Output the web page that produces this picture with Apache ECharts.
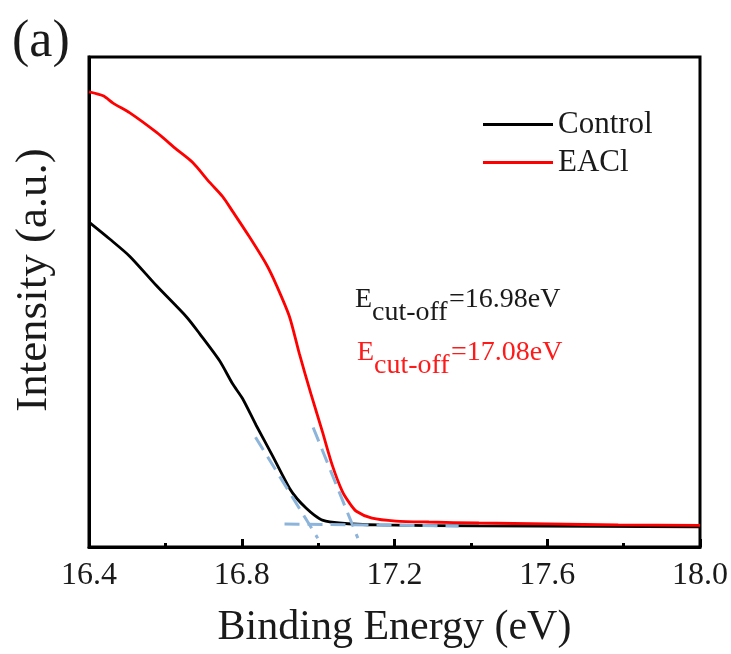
<!DOCTYPE html>
<html>
<head>
<meta charset="utf-8">
<script src="https://cdn.jsdelivr.net/npm/echarts@6/dist/echarts.min.js"></script>
<style>
  html, body { margin: 0; padding: 0; background: #fff; }
  #chart { width: 731px; height: 654px; }
</style>
</head>
<body>
<div id="chart"></div>
<script>
// UPS secondary-electron cut-off region, intensity in arbitrary units
const energyControl = [16.40, 16.455, 16.507, 16.577, 16.656, 16.690, 16.742, 16.776, 16.802, 16.838, 16.880, 16.925, 16.9455, 16.969, 16.990, 17.011, 17.055, 17.160, 17.421, 17.734, 18.0];
const intensityControl = [66.3, 62.8, 59.3, 53.3, 46.9, 43.5, 38.0, 33.3, 30.3, 24.8, 18.7, 12.0, 9.8, 7.9, 6.5, 5.5, 4.9, 4.5, 4.3, 4.2, 4.1];

const energyEACl = [16.40, 16.437, 16.463, 16.507, 16.577, 16.630, 16.671, 16.716, 16.750, 16.776, 16.820, 16.865, 16.891, 16.925, 16.951, 16.981, 17.011, 17.037, 17.063, 17.081, 17.100, 17.141, 17.204, 17.290, 17.421, 17.603, 17.786, 18.0];
const intensityEACl = [92.9, 92.1, 90.6, 88.6, 84.6, 81.1, 78.5, 74.4, 71.5, 68.5, 63.3, 57.6, 53.4, 47.0, 39.4, 31.3, 23.6, 16.7, 11.4, 9.1, 7.3, 5.9, 5.3, 5.1, 4.9, 4.7, 4.5, 4.4];

// Linear extrapolations used to locate the cut-off energies
const tangentControlE = [16.836, 16.999];
const tangentControlI = [22.4, 1.8];
const tangentEAClE = [16.987, 17.104];
const tangentEAClI = [24.4, 1.8];
const baselineE = [16.912, 17.368];
const baselineI = [4.7, 4.3];

const xTicks = [16.4, 16.8, 17.2, 17.6, 18.0];
const seriesNames = ['Control', 'EACl'];
const cutoffControl = '=16.98eV';
const cutoffEACl = '=17.08eV';

const FONT = "'Liberation Serif', 'Times New Roman', serif";

function pairs(xs, ys) {
  return xs.map((x, i) => [x, ys[i]]);
}

const dashStyle = { color: '#8db4da', width: 3, type: [15, 8] };

const chart = echarts.init(document.getElementById('chart'), null, { renderer: 'canvas' });

chart.setOption({
  backgroundColor: '#ffffff',
  animation: false,
  grid: {
    left: 89, top: 57, width: 613, height: 492,
    show: true, borderColor: '#000', borderWidth: 3, backgroundColor: 'transparent'
  },
  legend: {
    orient: 'vertical',
    left: 483, top: 109, padding: 0,
    itemWidth: 70, itemHeight: 3, itemGap: 7,
    icon: 'rect',
    data: seriesNames,
    textStyle: { fontFamily: FONT, fontSize: 31, color: '#1a1a1a' }
  },
  xAxis: {
    type: 'value',
    min: xTicks[0], max: xTicks[xTicks.length - 1], interval: 0.4,
    name: 'Binding Energy (eV)',
    nameLocation: 'middle', nameGap: 60,
    nameTextStyle: { fontFamily: FONT, fontSize: 42, color: '#1a1a1a' },
    axisLine: { show: true, lineStyle: { color: '#000', width: 3 } },
    axisTick: { show: true, inside: true, length: 8, lineStyle: { color: '#000', width: 3 } },
    minorTick: { show: true, splitNumber: 2, length: 4, lineStyle: { color: '#000', width: 3 } },
    splitLine: { show: false },
    axisLabel: {
      margin: 13, fontFamily: FONT, fontSize: 32, color: '#1a1a1a',
      formatter: v => v.toFixed(1)
    }
  },
  yAxis: {
    type: 'value', min: 0, max: 100,
    axisLine: { show: true, lineStyle: { color: '#000', width: 3 } },
    axisTick: { show: false },
    axisLabel: { show: false },
    splitLine: { show: false }
  },
  series: [
    {
      name: seriesNames[0], type: 'line', data: pairs(energyControl, intensityControl),
      symbol: 'none', smooth: 0.25, color: '#000000',
      lineStyle: { color: '#000000', width: 2.8 }, z: 3
    },
    {
      name: seriesNames[1], type: 'line', data: pairs(energyEACl, intensityEACl),
      symbol: 'none', smooth: 0.25, color: '#ff0000',
      lineStyle: { color: '#ff0000', width: 2.8 }, z: 3
    },
    {
      type: 'line', data: pairs(tangentControlE, tangentControlI),
      symbol: 'none', lineStyle: dashStyle, z: 4, silent: true
    },
    {
      type: 'line', data: pairs(tangentEAClE, tangentEAClI),
      symbol: 'none', lineStyle: dashStyle, z: 4, silent: true
    },
    {
      type: 'line', data: pairs(baselineE, baselineI),
      symbol: 'none', lineStyle: dashStyle, z: 4, silent: true
    }
  ],
  graphic: [
    { type: 'text', left: 12, top: 16, style: { text: '(a)', font: "52px " + FONT, fill: '#1a1a1a' } },
    {
      type: 'text', x: 34, y: 280, rotation: Math.PI / 2,
      style: { text: 'Intensity (a.u.)', font: "45px " + FONT, fill: '#1a1a1a', align: 'center', verticalAlign: 'middle' }
    },
    // cut-off annotations: E with subscript, then value
    { type: 'text', x: 355, y: 300, style: { text: 'E', font: "28px " + FONT, fill: '#1a1a1a', verticalAlign: 'middle' } },
    { type: 'text', x: 372, y: 313, style: { text: 'cut-off', font: "28px " + FONT, fill: '#1a1a1a', verticalAlign: 'middle' } },
    { type: 'text', x: 449, y: 300, style: { text: cutoffControl, font: "28px " + FONT, fill: '#1a1a1a', verticalAlign: 'middle' } },
    { type: 'text', x: 357, y: 353, style: { text: 'E', font: "28px " + FONT, fill: '#ff1a1a', verticalAlign: 'middle' } },
    { type: 'text', x: 374, y: 366, style: { text: 'cut-off', font: "28px " + FONT, fill: '#ff1a1a', verticalAlign: 'middle' } },
    { type: 'text', x: 451, y: 353, style: { text: cutoffEACl, font: "28px " + FONT, fill: '#ff1a1a', verticalAlign: 'middle' } }
  ]
});
</script>
</body>
</html>
